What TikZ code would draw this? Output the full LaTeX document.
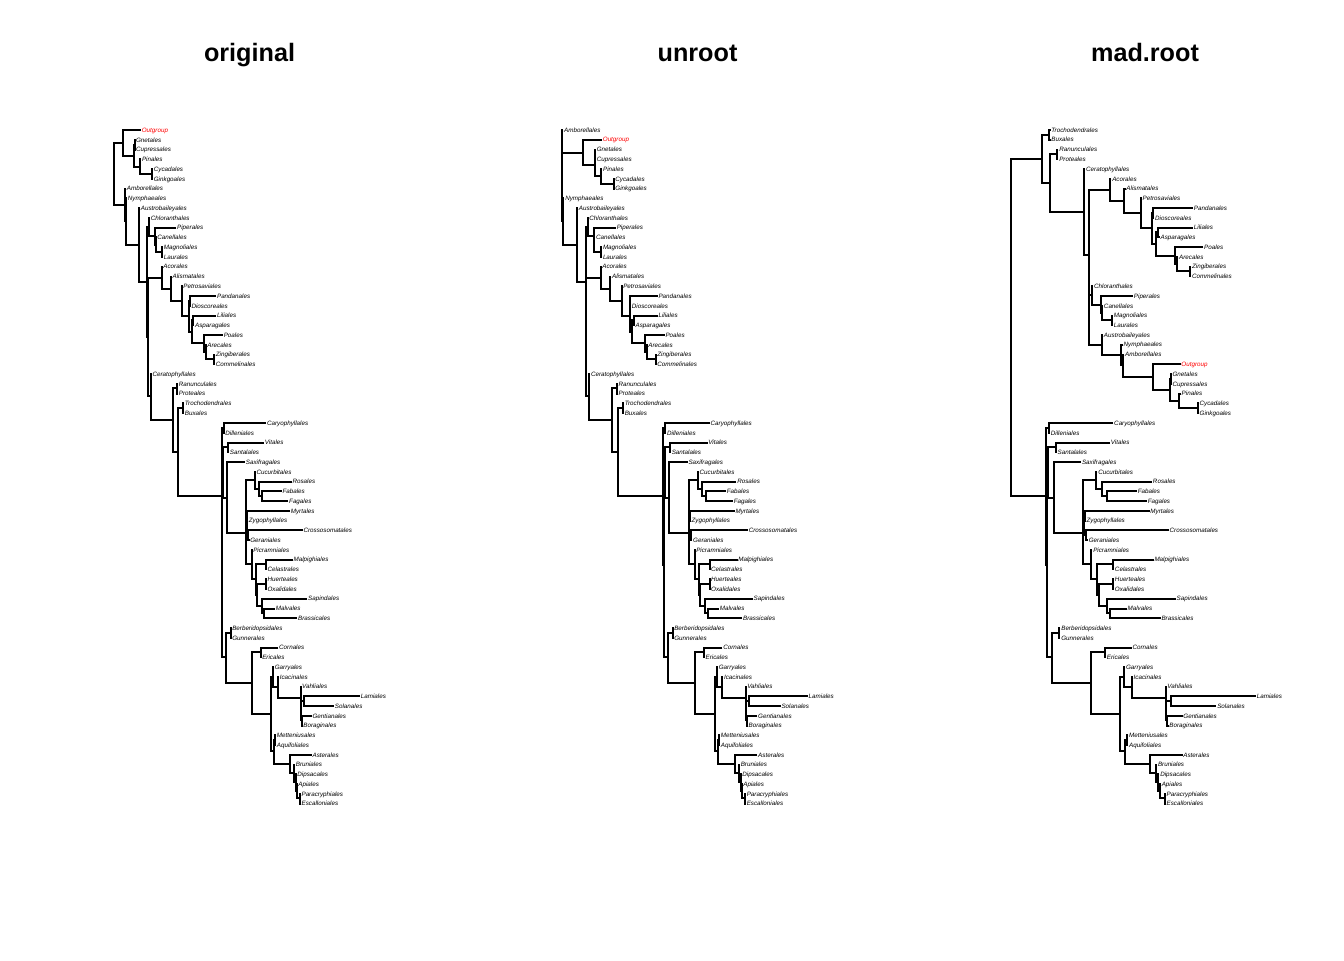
\documentclass[tikz,border=0pt]{standalone}
\usepackage{fontspec}
\setmainfont{Liberation Sans}
\usetikzlibrary{calc}

% a tip and its label
\newcommand\leaf[4]{\coordinate (#1) at (#2,#3); \node[lab] (#1-t) at (#1) {#4};}
% an inner node at x=#2, halfway between children #3 and #4, with its two branches
\newcommand\fork[4]{%
  \coordinate (#1mid) at ($(#3)!.5!(#4)$);
  \coordinate (#1) at (#2,0|-#1mid);
  \draw[br] (#3) -| (#1) |- (#4);}

\newcommand\gymno[1]{%
  \leaf{#1gne}{1.2}{0}{Gnetales}
  \leaf{#1cup}{1.2}{1}{Cupressales}
  \leaf{#1pin}{7.2}{2}{Pinales}
  \leaf{#1cyc}{19}{3}{Cycadales}
  \leaf{#1gin}{19}{4}{Ginkgoales}
  \fork{#1gc}{0.5}{#1gne}{#1cup}
  \fork{#1cg}{18.3}{#1cyc}{#1gin}
  \fork{#1pcg}{6.3}{#1pin}{#1cg}
  \fork{#1gym}{0}{#1gc}{#1pcg}}

\newcommand\magno[1]{%
  \leaf{#1chl}{0.8}{0}{Chloranthales}
  \leaf{#1pip}{27}{1}{Piperales}
  \leaf{#1can}{7.3}{2}{Canellales}
  \leaf{#1mag}{13.8}{3}{Magnoliales}
  \leaf{#1lau}{13.8}{4}{Laurales}
  \fork{#1ml}{13}{#1mag}{#1lau}
  \fork{#1cml}{6.4}{#1can}{#1ml}
  \fork{#1pcml}{5.7}{#1pip}{#1cml}
  \fork{#1magn}{0}{#1chl}{#1pcml}}

\newcommand\mono[1]{%
  \leaf{#1aco}{0.8}{0}{Acorales}
  \leaf{#1ali}{10.1}{1}{Alismatales}
  \leaf{#1pet}{20.8}{2}{Petrosaviales}
  \leaf{#1pan}{54.5}{3}{Pandanales}
  \leaf{#1dio}{29}{4}{Dioscoreales}
  \leaf{#1lil}{54.5}{5}{Liliales}
  \leaf{#1asp}{32.6}{6}{Asparagales}
  \leaf{#1poa}{61.2}{7}{Poales}
  \leaf{#1are}{44.8}{8}{Arecales}
  \leaf{#1zin}{53.3}{9}{Zingiberales}
  \leaf{#1com}{53.3}{10}{Commelinales}
  \fork{#1zc}{52.6}{#1zin}{#1com}
  \fork{#1azc}{44}{#1are}{#1zc}
  \fork{#1pazc}{42.6}{#1poa}{#1azc}
  \fork{#1la}{31.6}{#1lil}{#1asp}
  \fork{#1lapa}{30}{#1la}{#1pazc}
  \fork{#1pd}{28.3}{#1pan}{#1dio}
  \fork{#1pdla}{27.6}{#1pd}{#1lapa}
  \fork{#1petr}{20}{#1pet}{#1pdla}
  \fork{#1alis}{9.3}{#1ali}{#1petr}
  \fork{#1mono}{0}{#1aco}{#1alis}}

\newcommand\core[1]{%
  \leaf{#1cary}{44.5}{0}{Caryophyllales}
  \leaf{#1dill}{2.8}{1}{Dilleniales}
  \leaf{#1vit}{42.3}{2}{Vitales}
  \leaf{#1san}{7.3}{3}{Santalales}
  \leaf{#1sax}{23.3}{4}{Saxifragales}
  \leaf{#1cuc}{34}{5}{Cucurbitales}
  \leaf{#1ros}{70}{6}{Rosales}
  \leaf{#1fab}{60}{7}{Fabales}
  \leaf{#1fag}{66.6}{8}{Fagales}
  \leaf{#1myr}{68.3}{9}{Myrtales}
  \leaf{#1zyg}{26.3}{10}{Zygophyllales}
  \leaf{#1cro}{81}{11}{Crossosomatales}
  \leaf{#1ger}{27.8}{12}{Geraniales}
  \leaf{#1pic}{30.7}{13}{Picramniales}
  \leaf{#1malp}{71}{14}{Malpighiales}
  \leaf{#1cel}{45}{15}{Celastrales}
  \leaf{#1hue}{45}{16}{Huerteales}
  \leaf{#1oxa}{45}{17}{Oxalidales}
  \leaf{#1sap}{85.6}{18}{Sapindales}
  \leaf{#1malv}{53.3}{19}{Malvales}
  \leaf{#1bra}{75.6}{20}{Brassicales}
  \leaf{#1ber}{9.7}{21}{Berberidopsidales}
  \leaf{#1gun}{9.7}{22}{Gunnerales}
  \leaf{#1cor}{56.6}{23}{Cornales}
  \leaf{#1eri}{39.7}{24}{Ericales}
  \leaf{#1gar}{52.3}{25}{Garryales}
  \leaf{#1ica}{57.3}{26}{Icacinales}
  \leaf{#1vah}{79.5}{27}{Vahliales}
  \leaf{#1lam}{138.3}{28}{Lamiales}
  \leaf{#1sol}{112.3}{29}{Solanales}
  \leaf{#1gen}{90}{30}{Gentianales}
  \leaf{#1bor}{80.8}{31}{Boraginales}
  \leaf{#1met}{54.3}{32}{Metteniusales}
  \leaf{#1aqu}{54.3}{33}{Aquifoliales}
  \leaf{#1ast}{90}{34}{Asterales}
  \leaf{#1bru}{73.3}{35}{Bruniales}
  \leaf{#1dip}{74.8}{36}{Dipsacales}
  \leaf{#1api}{75.8}{37}{Apiales}
  \leaf{#1par}{79}{38}{Paracryphiales}
  \leaf{#1esc}{79}{39}{Escalloniales}
  \fork{#1cd}{2}{#1cary}{#1dill}
  \fork{#1vs}{6.6}{#1vit}{#1san}
  \fork{#1ff}{40.6}{#1fab}{#1fag}
  \fork{#1rff}{37.3}{#1ros}{#1ff}
  \fork{#1fabid}{33.3}{#1cuc}{#1rff}
  \fork{#1mz}{25.6}{#1myr}{#1zyg}
  \fork{#1cgr}{26.6}{#1cro}{#1ger}
  \fork{#1mzcg}{25}{#1mz}{#1cgr}
  \fork{#1fz}{24.6}{#1fabid}{#1mzcg}
  \fork{#1mc}{44.3}{#1malp}{#1cel}
  \fork{#1ho}{44.3}{#1hue}{#1oxa}
  \fork{#1mb}{42.3}{#1malv}{#1bra}
  \fork{#1smb}{40}{#1sap}{#1mb}
  \fork{#1hosmb}{34.8}{#1ho}{#1smb}
  \fork{#1malvid}{34}{#1mc}{#1hosmb}
  \fork{#1picm}{30}{#1pic}{#1malvid}
  \fork{#1rosid}{24.3}{#1fz}{#1picm}
  \fork{#1sr}{5.6}{#1sax}{#1rosid}
  \fork{#1vssr}{1.6}{#1vs}{#1sr}
  \fork{#1bg}{9}{#1ber}{#1gun}
  \fork{#1ce}{39}{#1cor}{#1eri}
  \fork{#1ls}{82.3}{#1lam}{#1sol}
  \fork{#1gb}{80}{#1gen}{#1bor}
  \fork{#1lsgb}{79.3}{#1ls}{#1gb}
  \fork{#1lc}{79}{#1vah}{#1lsgb}
  \fork{#1il}{56.6}{#1ica}{#1lc}
  \fork{#1gil}{51.6}{#1gar}{#1il}
  \fork{#1ma}{53.3}{#1met}{#1aqu}
  \fork{#1pe}{78.3}{#1par}{#1esc}
  \fork{#1ap}{75}{#1api}{#1pe}
  \fork{#1dap}{74}{#1dip}{#1ap}
  \fork{#1bd}{72.6}{#1bru}{#1dap}
  \fork{#1astc}{68.3}{#1ast}{#1bd}
  \fork{#1camp}{52.3}{#1ma}{#1astc}
  \fork{#1lamc}{49}{#1gil}{#1camp}
  \fork{#1astf}{30}{#1ce}{#1lamc}
  \fork{#1bga}{4.3}{#1bg}{#1astf}
  \fork{#1cx}{0.6}{#1vssr}{#1bga}
  \fork{#1core}{0}{#1cd}{#1cx}}

\begin{document}
\begin{tikzpicture}[x=0.75pt,y=-0.75pt]
\tikzstyle{br}=[line width=1.5pt]
\tikzstyle{lab}=[anchor=west,inner xsep=0.45pt,inner ysep=0pt,text height=3.35pt,text depth=0pt,font=\fontsize{4.7}{5}\selectfont\itshape]
\tikzstyle{ttl}=[anchor=base,font=\fontsize{18.9}{22}\selectfont\bfseries]
\useasboundingbox[fill=white] (0,0) rectangle (1344,960);

\node[ttl] (t-orig) at (249.5,61) {original};
\node[ttl] (t-unr) at (697.5,61) {unroot};
\node[ttl] (t-mad) at (1145,61) {mad.root};

% original
\begin{scope}[shift={(0,120.232)},yscale=9.768]
  \leaf{aout}{141}{1}{\color{red}Outgroup}
  \begin{scope}[shift={(134,2)}] \gymno{a} \end{scope}
  \leaf{aamb}{126}{7}{Amborellales}
  \leaf{anym}{127}{8}{Nymphaeales}
  \leaf{aaus}{140}{9}{Austrobaileyales}
  \begin{scope}[shift={(149.3,10)}] \magno{a} \end{scope}
  \begin{scope}[shift={(161.7,15)}] \mono{a} \end{scope}
  \leaf{acera}{151.7}{26}{Ceratophyllales}
  \leaf{aran}{178}{27}{Ranunculales}
  \leaf{apro}{178}{28}{Proteales}
  \leaf{atro}{184}{29}{Trochodendrales}
  \leaf{abux}{184}{30}{Buxales}
  \begin{scope}[shift={(221.7,31)}] \core{a} \end{scope}
  \fork{arp}{177.3}{aran}{apro}
  \fork{atb}{183.3}{atro}{abux}
  \fork{ae2}{178.3}{atb}{acore}
  \fork{aeud}{172.7}{arp}{ae2}
  \fork{acerf}{150.7}{acera}{aeud}
  \fork{aq}{147.5}{amono}{acerf}
  \fork{ames}{147.3}{amagn}{aq}
  \fork{arest}{139}{aaus}{ames}
  \fork{anf}{126}{anym}{arest}
  \fork{aang}{125}{aamb}{anf}
  \fork{aog}{123}{aout}{agym}
  \fork{aroot}{114}{aog}{aang}
\end{scope}

% unroot
\begin{scope}[shift={(0,120.232)},yscale=9.768]
  \leaf{bamb}{563.3}{1}{Amborellales}
  \leaf{bout}{602}{2}{\color{red}Outgroup}
  \begin{scope}[shift={(594.7,3)},xscale=1.045] \gymno{b} \end{scope}
  \leaf{bnym}{564.4}{8}{Nymphaeales}
  \leaf{baus}{578}{9}{Austrobaileyales}
  \begin{scope}[shift={(587.7,10)},xscale=1.045] \magno{b} \end{scope}
  \begin{scope}[shift={(600.7,15)},xscale=1.045] \mono{b} \end{scope}
  \leaf{bcera}{590.2}{26}{Ceratophyllales}
  \leaf{bran}{617.7}{27}{Ranunculales}
  \leaf{bpro}{617.7}{28}{Proteales}
  \leaf{btro}{623.9}{29}{Trochodendrales}
  \leaf{bbux}{623.9}{30}{Buxales}
  \begin{scope}[shift={(663.3,31)},xscale=1.045] \core{b} \end{scope}
  \fork{brp}{617}{bran}{bpro}
  \fork{btb}{623.2}{btro}{bbux}
  \fork{be2}{618}{btb}{bcore}
  \fork{beud}{612.1}{brp}{be2}
  \fork{bcerf}{589.2}{bcera}{beud}
  \fork{bq}{585.8}{bmono}{bcerf}
  \fork{bmes}{585.6}{bmagn}{bq}
  \fork{brest}{576.9}{baus}{bmes}
  \fork{bnf}{563.3}{bnym}{brest}
  \fork{bog}{583.2}{bout}{bgym}
  \fork{broot}{562.3}{bamb}{bnf}
  \draw[br] (broot) |- (bog);
\end{scope}

% mad.root
\begin{scope}[shift={(0,120.232)},yscale=9.768]
  \leaf{ctro}{1050.5}{1}{Trochodendrales}
  \leaf{cbux}{1050.5}{2}{Buxales}
  \leaf{cran}{1058.4}{3}{Ranunculales}
  \leaf{cpro}{1058.4}{4}{Proteales}
  \leaf{ccera}{1085.3}{5}{Ceratophyllales}
  \begin{scope}[shift={(1110.2,6)},xscale=1.52] \mono{c} \end{scope}
  \begin{scope}[shift={(1092,17)},xscale=1.52] \magno{c} \end{scope}
  \leaf{caus}{1103.1}{22}{Austrobaileyales}
  \leaf{cnym}{1122.8}{23}{Nymphaeales}
  \leaf{camb}{1124.3}{24}{Amborellales}
  \leaf{cout}{1180.6}{25}{\color{red}Outgroup}
  \begin{scope}[shift={(1169.9,26)},xscale=1.52] \gymno{c} \end{scope}
  \begin{scope}[shift={(1045.7,31)},xscale=1.52] \core{c} \end{scope}
  \fork{cog}{1153.2}{cout}{cgym}
  \fork{cang}{1122.8}{camb}{cog}
  \fork{cnf}{1121.3}{cnym}{cang}
  \fork{crest}{1101.5}{caus}{cnf}
  \fork{cmes}{1088.9}{cmagn}{crest}
  \fork{cq}{1088.6}{cmono}{cmes}
  \fork{ccerf}{1083.8}{ccera}{cq}
  \fork{crp}{1057.3}{cran}{cpro}
  \fork{ceud}{1050.3}{crp}{ccerf}
  \fork{ctb}{1049.4}{ctro}{cbux}
  \fork{ce2}{1041.8}{ctb}{ceud}
  \fork{croot}{1010.7}{ce2}{ccore}
\end{scope}
\end{tikzpicture}
\end{document}
